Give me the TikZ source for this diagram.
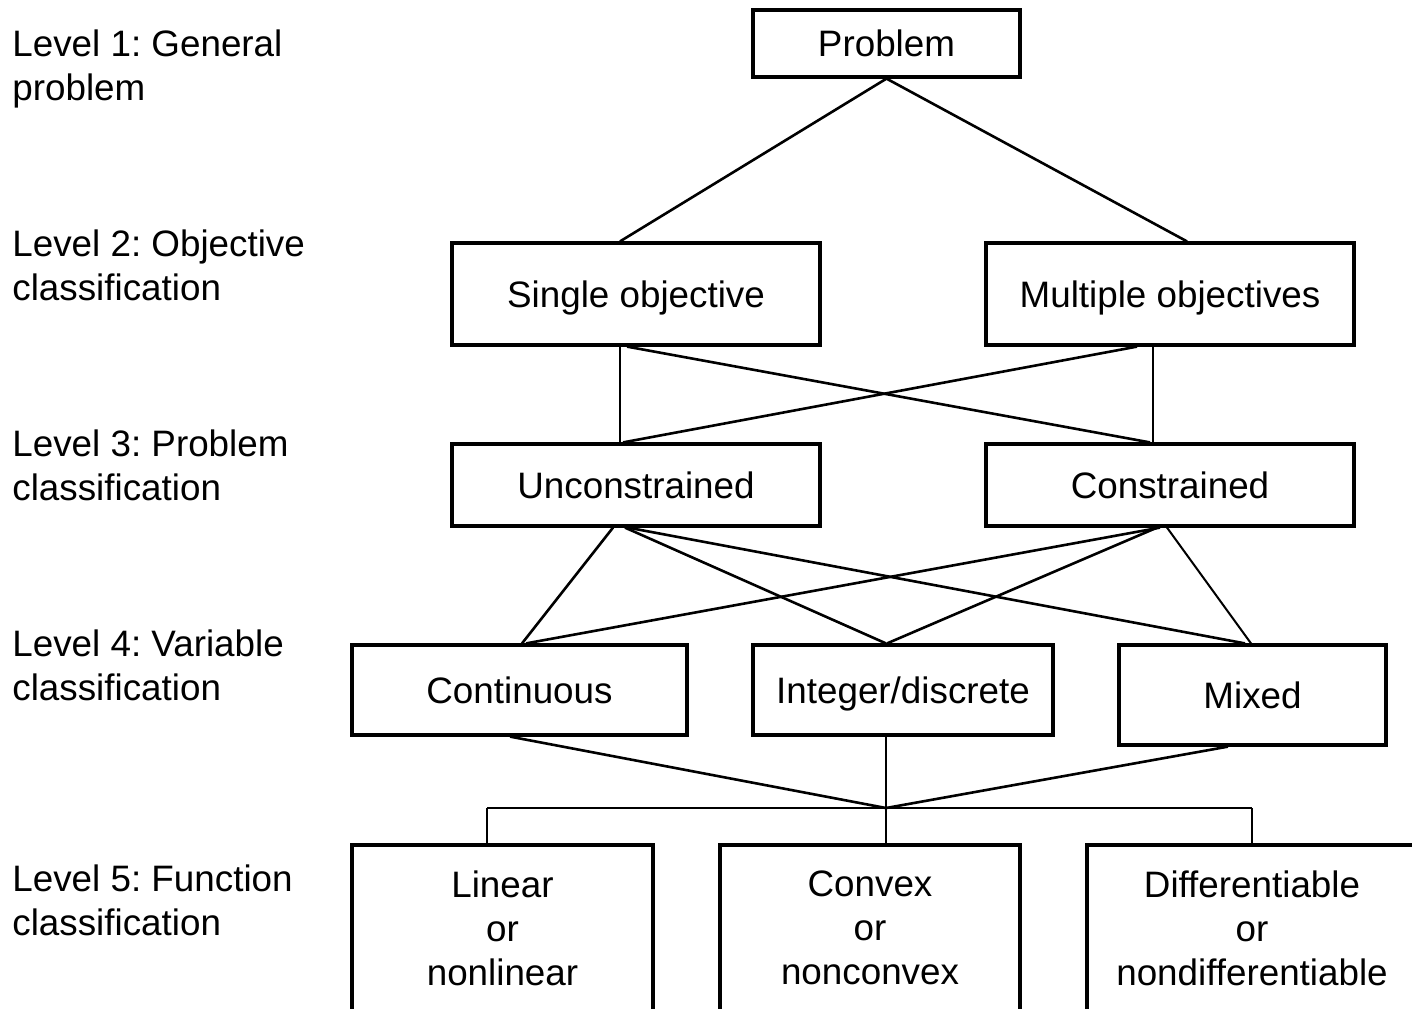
\documentclass[tikz,border=0pt]{standalone}
\usepackage{fontspec}
\setmainfont{Liberation Sans}
\frenchspacing
\begin{document}
\begin{tikzpicture}[x=0.5pt,y=-0.5pt,
  every node/.style={font=\fontsize{18.4pt}{22pt}\selectfont},
  box/.style={draw, line width=1.6pt, inner sep=0pt, align=center},
  one/.style={text height=13pt, text depth=0pt},
  lvl/.style={anchor=north west, inner sep=0pt, align=left},
  link/.style={line width=1.3pt},
  vlink/.style={line width=1pt}]
\useasboundingbox (0,0) rectangle (1412,1008);
\clip (0,0) rectangle (1412,1008);
\fill[white] (0,0) rectangle (1412,1008);

% level labels
\node[lvl] (l1) at (12,29) {Level 1: General\\problem};
\node[lvl] (l2) at (12,229) {Level 2: Objective\\classification};
\node[lvl] (l3) at (12,429) {Level 3: Problem\\classification};
\node[lvl] (l4) at (12,629) {Level 4: Variable\\classification};
\node[lvl] (l5) at (12,864) {Level 5: Function\\classification};

% boxes
\node[box, one, minimum width=133.5pt, minimum height=33.5pt] (prob) at (886.5,43.5) {Problem};
\node[box, one, minimum width=184pt, minimum height=51pt] (single) at (636,294) {Single objective};
\node[box, one, minimum width=184pt, minimum height=51pt] (multi) at (1170,294) {Multiple objectives};
\node[box, one, minimum width=184pt, minimum height=41pt] (uncon) at (636,485) {Unconstrained};
\node[box, one, minimum width=184pt, minimum height=41pt] (con) at (1170,485) {Constrained};
\node[box, one, minimum width=167.5pt, minimum height=45pt] (cont) at (519.5,690) {Continuous};
\node[box, one, minimum width=150pt, minimum height=45pt] (integ) at (903,690) {Integer/discrete};
\node[box, one, minimum width=133.5pt, minimum height=50pt] (mixed) at (1252.5,695) {Mixed};
\node[box, minimum width=150.5pt, minimum height=83pt] (lin) at (502.5,928) {Linear\\or\\nonlinear};
\node[box, minimum width=150pt, minimum height=83pt] (cvx) at (870,928) {Convex\\or\\nonconvex};
\node[box, minimum width=165pt, minimum height=83pt] (dif) at (1252,928) {Differentiable\\or\\nondifferentiable};

% level 1 -> 2
\draw[link] (prob.south) -- ([xshift=-8pt]single.north);
\draw[link] (prob.south) -- ([xshift=8.5pt]multi.north);

% level 2 -> 3
\draw[vlink] ([xshift=-8pt]single.south) -- ([xshift=-8pt]uncon.north);
\draw[link] ([xshift=-4.5pt]single.south) -- ([xshift=-10pt]con.north);
\draw[link] ([xshift=-16.5pt]multi.south) -- ([xshift=-6.5pt]uncon.north);
\draw[vlink] ([xshift=-8.5pt]multi.south) -- ([xshift=-8.5pt]con.north);

% level 3 -> 4
\draw[link] ([xshift=-11.5pt]uncon.south) -- ([xshift=1.25pt]cont.north);
\draw[link] ([xshift=-5.5pt]uncon.south) -- ([xshift=-8.5pt]integ.north);
\draw[link] ([xshift=-4pt]uncon.south) -- ([xshift=-3.75pt]mixed.north);
\draw[link] ([xshift=-5pt]con.south) -- ([xshift=3.25pt]cont.north);
\draw[link] ([xshift=-6.5pt]con.south) -- ([xshift=-8pt]integ.north);
\draw[vlink] ([xshift=-1.5pt]con.south) -- ([xshift=-0.75pt]mixed.north);

% level 4 -> 5
\coordinate (j) at (886,808);
\coordinate (jl) at (487,808);
\coordinate (jr) at (1252,808);
\draw[link] ([xshift=-4.75pt]cont.south) -- (j);
\draw[link] ([xshift=-12.25pt]mixed.south) -- (j);
\draw[vlink] ([xshift=-8.5pt]integ.south) -- ([xshift=8pt]cvx.north);
\draw[vlink] (jl) -- (jr);
\draw[vlink] (jl) -- ([xshift=-7.75pt]lin.north);
\draw[vlink] (jr) -- (dif.north);
\end{tikzpicture}
\end{document}
